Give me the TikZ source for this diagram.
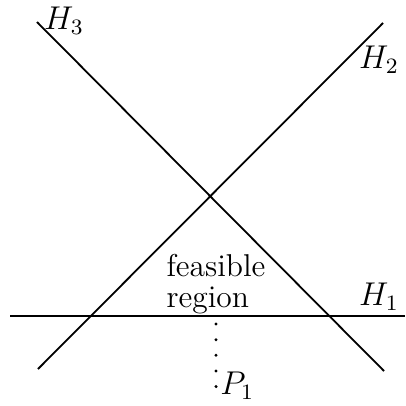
\documentclass[tikz,border=0pt]{standalone}
\usepackage{amsmath, amssymb}
\usepackage{tikz}
\usetikzlibrary{positioning, calc}
\tikzset{
  hline/.style={line width=0.65pt},
  dotline/.style={line width=1.2pt, line cap=round, dash pattern=on 0pt off 5.7pt},
  hlabel/.style={inner sep=1pt, font=\fontsize{11.5}{13}\selectfont},
  region/.style={align=left, inner sep=0pt, font=\fontsize{11.5}{11.5}\selectfont},
}
\begin{document}
\begin{tikzpicture}[x=0.0128cm, y=-0.0128cm]
    \useasboundingbox (0,0) rectangle (405,406);
    % Line end points
    \coordinate (h1a) at (10,316);
    \coordinate (h1b) at (405,316);
    \coordinate (h2a) at (38,369);
    \coordinate (h2b) at (383,23);
    \coordinate (h3a) at (37,22);
    \coordinate (h3b) at (384,371);
    \coordinate (top) at (216,324);
    \coordinate (p1) at (216,387.5);
    % Lines
    \draw[hline] (h1a) -- (h1b);
    \draw[hline] (h2a) -- (h2b);
    \draw[hline] (h3a) -- (h3b);
    \draw[dotline] (top) -- (p1);
    % Labels
    \node[hlabel] (l1) at (379,297) {$H_1$};
    \node[hlabel] (l2) at (379,60) {$H_2$};
    \node[hlabel] (l3) at (64,21) {$H_3$};
    \node[hlabel, anchor=west] (lp) at (217,386) {$P_1$};
    \node[region] (fr) at (216,284) {feasible\\region};
\end{tikzpicture}
\end{document}
